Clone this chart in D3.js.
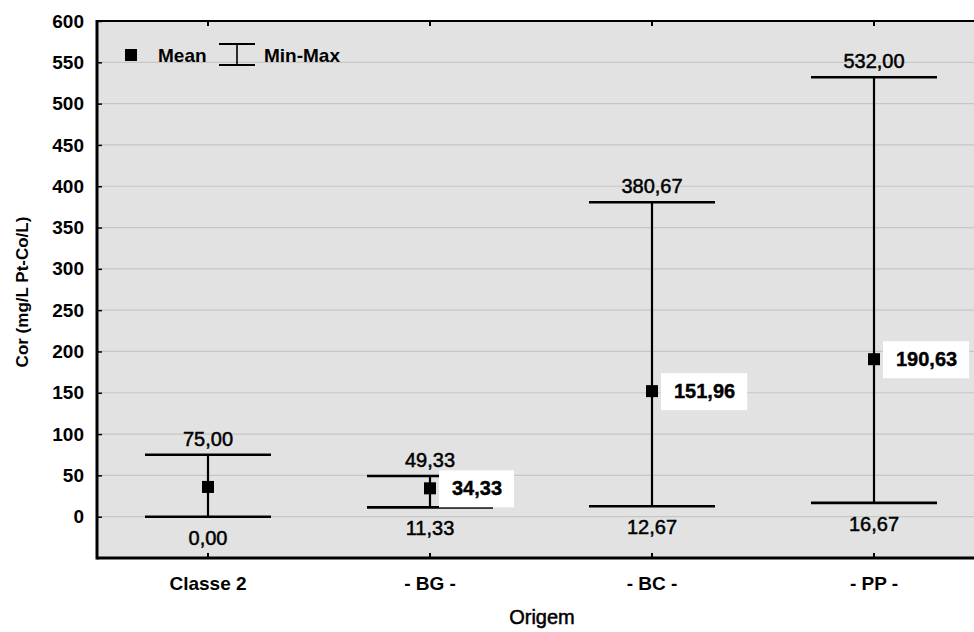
<!DOCTYPE html>
<html lang="pt">
<head>
    <meta charset="UTF-8">
    <title>Cor por origem</title>
    <script src="https://cdn.jsdelivr.net/npm/d3@7"></script>
    <style>
        body { margin: 0; background: #fff; }
        svg { display: block; font-family: "Liberation Sans", Arial, sans-serif; }
    </style>
</head>
<body>
<svg id="chart" width="974" height="632"></svg>
<script>
    // data
    const categories = ["Classe 2", "- BG -", "- BC -", "- PP -"];
    const means = [36, 34.33, 151.96, 190.63];
    const mins = [0, 11.33, 12.67, 16.67];
    const maxs = [75, 49.33, 380.67, 532];
    const meanLabelShown = [false, true, true, true];
    const yTicks = [0, 50, 100, 150, 200, 250, 300, 350, 400, 450, 500, 550, 600];

    const fmt = v => v.toFixed(2).replace(".", ",");
    const FONT = "Liberation Sans, Arial, sans-serif";

    const svg = d3.select("#chart");
    const plotL = 97, plotR = 985, plotT = 21, plotB = 558;

    const x = d3.scaleBand().domain(categories).range([plotL, plotR]);
    const y = d3.scaleLinear().domain([-50, 600]).range([plotB, plotT]);
    const cx = c => x(c) + x.bandwidth() / 2;
    const capHalf = 63;

    // plot background
    svg.append("rect")
        .attr("x", plotL).attr("y", plotT)
        .attr("width", plotR - plotL).attr("height", plotB - plotT)
        .attr("fill", "#e2e2e2");

    // grid
    svg.append("g").selectAll("line")
        .data(yTicks.filter(t => t < 600))
        .enter().append("line")
        .attr("x1", plotL).attr("x2", plotR)
        .attr("y1", d => y(d)).attr("y2", d => y(d))
        .attr("stroke", "#c6c6c6").attr("stroke-width", 1.2);

    // y axis labels + inner ticks
    const yAxis = svg.append("g")
        .attr("transform", `translate(${plotL},0)`)
        .call(d3.axisLeft(y).tickValues(yTicks).tickSize(-5).tickPadding(13));
    yAxis.select(".domain").remove();
    yAxis.selectAll("line").attr("stroke", "#000").attr("stroke-width", 1.5);
    yAxis.selectAll("text")
        .attr("font-size", 19).attr("font-family", FONT).attr("font-weight", "bold")
        .attr("fill", "#000");

    // x axis labels + inner ticks
    const xAxis = svg.append("g")
        .attr("transform", `translate(0,${plotB})`)
        .call(d3.axisBottom(x).tickSize(-5).tickPadding(19));
    xAxis.select(".domain").remove();
    xAxis.selectAll("line").attr("stroke", "#000").attr("stroke-width", 2);
    xAxis.selectAll("text")
        .attr("font-size", 19).attr("font-family", FONT).attr("font-weight", "bold")
        .attr("fill", "#000");

    // top ticks
    svg.append("g").selectAll("line")
        .data(categories)
        .enter().append("line")
        .attr("x1", cx).attr("x2", cx)
        .attr("y1", plotT).attr("y2", plotT + 5)
        .attr("stroke", "#000").attr("stroke-width", 2);

    // frame
    svg.append("line").attr("x1", plotL).attr("x2", plotR).attr("y1", plotT).attr("y2", plotT)
        .attr("stroke", "#000").attr("stroke-width", 2);
    svg.append("line").attr("x1", plotL).attr("x2", plotR).attr("y1", plotB).attr("y2", plotB)
        .attr("stroke", "#000").attr("stroke-width", 3);
    svg.append("line").attr("x1", plotL).attr("x2", plotL).attr("y1", plotT - 1).attr("y2", plotB + 1.5)
        .attr("stroke", "#000").attr("stroke-width", 3);

    // whiskers
    const g = svg.append("g").selectAll("g")
        .data(categories)
        .enter().append("g");
    g.append("line")
        .attr("x1", cx).attr("x2", cx)
        .attr("y1", (d, i) => y(maxs[i])).attr("y2", (d, i) => y(mins[i]))
        .attr("stroke", "#000").attr("stroke-width", 2.2);
    g.append("line")
        .attr("x1", d => cx(d) - capHalf).attr("x2", d => cx(d) + capHalf)
        .attr("y1", (d, i) => y(maxs[i])).attr("y2", (d, i) => y(maxs[i]))
        .attr("stroke", "#000").attr("stroke-width", 2.6);
    g.append("line")
        .attr("x1", d => cx(d) - capHalf).attr("x2", d => cx(d) + capHalf)
        .attr("y1", (d, i) => y(mins[i])).attr("y2", (d, i) => y(mins[i]))
        .attr("stroke", "#000").attr("stroke-width", 2.6);
    g.append("rect")
        .attr("x", d => cx(d) - 6).attr("y", (d, i) => y(means[i]) - 6)
        .attr("width", 12).attr("height", 12)
        .attr("fill", "#000");

    // max / min labels
    g.append("text")
        .attr("x", cx).attr("y", (d, i) => y(maxs[i]) - 9)
        .attr("text-anchor", "middle").attr("font-size", 20)
        .attr("stroke", "#000").attr("stroke-width", 0.5)
        .text((d, i) => fmt(maxs[i]));
    g.append("text")
        .attr("x", cx).attr("y", (d, i) => y(mins[i]) + 28)
        .attr("text-anchor", "middle").attr("font-size", 20)
        .attr("stroke", "#000").attr("stroke-width", 0.5)
        .text((d, i) => fmt(mins[i]));

    // mean labels in white boxes
    g.filter((d, i) => meanLabelShown[i]).each(function (d) {
        const i = categories.indexOf(d);
        const sel = d3.select(this);
        const box = sel.append("rect").attr("fill", "#fff");
        const t = sel.append("text")
            .attr("x", cx(d) + 22).attr("y", y(means[i]) + 7)
            .attr("font-size", 20).attr("font-weight", "bold")
            .attr("stroke", "#000").attr("stroke-width", 0.4)
            .text(fmt(means[i]));
        const w = t.node().getComputedTextLength();
        box.attr("x", cx(d) + 9).attr("y", y(means[i]) - 18)
            .attr("width", w + 25).attr("height", 37);
        t.raise();
    });

    // legend
    const lg = svg.append("g");
    lg.append("rect").attr("x", 125).attr("y", 49).attr("width", 12).attr("height", 12).attr("fill", "#000");
    lg.append("text").attr("x", 158).attr("y", 62).attr("font-size", 19).attr("font-weight", "bold")
        .text("Mean");
    lg.append("line").attr("x1", 219).attr("x2", 255).attr("y1", 44).attr("y2", 44).attr("stroke", "#000").attr("stroke-width", 2);
    lg.append("line").attr("x1", 219).attr("x2", 255).attr("y1", 65).attr("y2", 65).attr("stroke", "#000").attr("stroke-width", 2);
    lg.append("line").attr("x1", 237).attr("x2", 237).attr("y1", 44).attr("y2", 65).attr("stroke", "#000").attr("stroke-width", 1.6);
    lg.append("text").attr("x", 264).attr("y", 62).attr("font-size", 19).attr("font-weight", "bold")
        .text("Min-Max");

    // axis titles
    svg.append("text")
        .attr("transform", "translate(28,292) rotate(-90)")
        .attr("text-anchor", "middle").attr("font-size", 17).attr("font-weight", "bold")
        .text("Cor (mg/L Pt-Co/L)");
    svg.append("text")
        .attr("x", 542).attr("y", 624)
        .attr("text-anchor", "middle").attr("font-size", 20)
        .attr("stroke", "#000").attr("stroke-width", 0.5)
        .text("Origem");
</script>
</body>
</html>
